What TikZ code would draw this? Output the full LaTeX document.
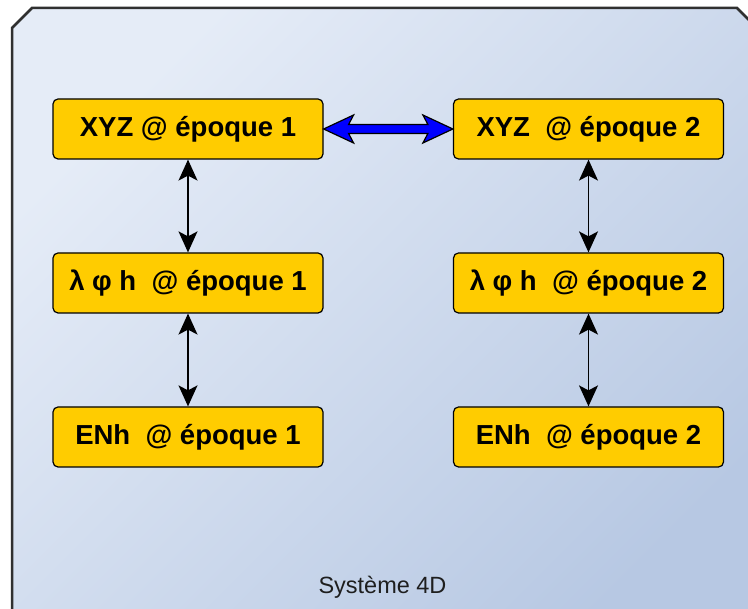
\documentclass[tikz,border=0pt]{standalone}
\usepackage{fontspec}
\setmainfont{Liberation Sans}
\usetikzlibrary{arrows.meta,calc}
\definecolor{gold}{RGB}{255,204,0}
\definecolor{bgA}{RGB}{229,236,247}
\definecolor{bgB}{RGB}{183,200,227}
\definecolor{framec}{RGB}{48,48,48}
\definecolor{txt}{RGB}{30,30,30}
\begin{document}
\begin{tikzpicture}[x=1pt,y=1pt,
  box/.style={draw=black, line width=1.2pt, fill=gold, rounded corners=5pt,
    minimum width=270pt, minimum height=60pt, inner sep=0pt,
    font=\fontsize{27.5}{31}\selectfont\bfseries},
  varrow/.style={line width=1.5pt, {Stealth[length=21pt,width=19pt,inset=5pt]}-{Stealth[length=21pt,width=19pt,inset=5pt]}}]
\useasboundingbox (0,0) rectangle (748,609);
\begin{scope}
\clip (0,0) rectangle (748,609);
\draw[framec, line width=2.5pt, top color=bgA, bottom color=bgB, shading angle=45]
  (12,-50) -- (12,581) -- (32,601) -- (737,601) -- (757,581) -- (757,-50) -- cycle;
\end{scope}
\node[box] (a1) at (188,480) {XYZ @ époque 1};
\node[box] (a2) at (588.5,480) {XYZ\ \ @ époque 2};
\node[box] (b1) at (188,326) {λ φ h\ \ @ époque 1};
\node[box] (b2) at (588.5,326) {λ φ h\ \ @ époque 2};
\node[box] (c1) at (188,172) {ENh\ \ @ époque 1};
\node[box] (c2) at (588.5,172) {ENh\ \ @ époque 2};
\draw[varrow] (a1.south) -- (b1.north);
\draw[varrow] (b1.south) -- (c1.north);
\draw[varrow] (a2.south) -- (b2.north);
\draw[varrow] (b2.south) -- (c2.north);
\filldraw[fill=blue, draw=black, line width=1.2pt, line join=miter]
  (a1.east) -- ($(a1.east)+(30,14)$) -- ($(a1.east)+(25,4.5)$)
  -- ($(a2.west)+(-25,4.5)$) -- ($(a2.west)+(-30,14)$) -- (a2.west)
  -- ($(a2.west)+(-30,-14)$) -- ($(a2.west)+(-25,-4.5)$)
  -- ($(a1.east)+(25,-4.5)$) -- ($(a1.east)+(30,-14)$) -- cycle;
\node[font=\fontsize{23.5}{28}\selectfont, text=txt, anchor=base] (lbl) at (382.5,15) {Système 4D};
\end{tikzpicture}
\end{document}
